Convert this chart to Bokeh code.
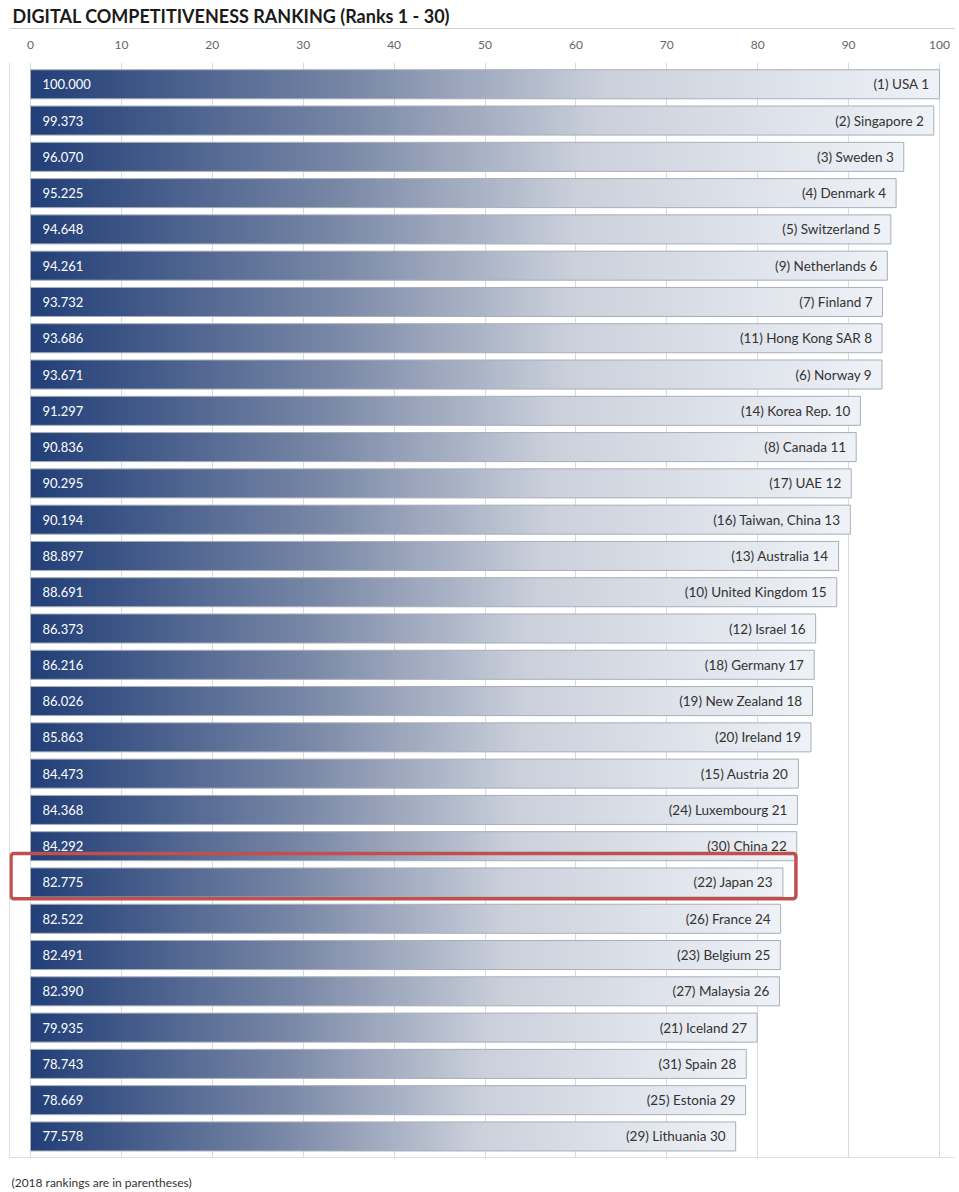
import numpy as np
from bokeh.plotting import figure
from bokeh.models import (Range1d, LinearAxis, FixedTicker, ColumnDataSource,
                          BoxAnnotation, Title)
from bokeh.core.properties import value
from bokeh.embed import file_html
from bokeh.resources import INLINE

# ---------------- data ----------------
ranks = list(range(1, 31))
countries = ["USA", "Singapore", "Sweden", "Denmark", "Switzerland", "Netherlands",
             "Finland", "Hong Kong SAR", "Norway", "Korea Rep.", "Canada", "UAE",
             "Taiwan, China", "Australia", "United Kingdom", "Israel", "Germany",
             "New Zealand", "Ireland", "Austria", "Luxembourg", "China", "Japan",
             "France", "Belgium", "Malaysia", "Iceland", "Spain", "Estonia", "Lithuania"]
ranks_2018 = [1, 2, 3, 4, 5, 9, 7, 11, 6, 14, 8, 17, 16, 13, 10, 12, 18, 19, 20, 15,
              24, 30, 22, 26, 23, 27, 21, 31, 25, 29]
scores = [100.000, 99.373, 96.070, 95.225, 94.648, 94.261, 93.732, 93.686, 93.671,
          91.297, 90.836, 90.295, 90.194, 88.897, 88.691, 86.373, 86.216, 86.026,
          85.863, 84.473, 84.368, 84.292, 82.775, 82.522, 82.491, 82.390, 79.935,
          78.743, 78.669, 77.578]
tick_values = [0, 10, 20, 30, 40, 50, 60, 70, 80, 90, 100]
title_text = "DIGITAL COMPETITIVENESS RANKING (Ranks 1 - 30)"
footnote_text = "(2018 rankings are in parentheses)"
highlight_country = "Japan"

# ---------------- styling ----------------
FONT = "Lato"
PX = 9.09                      # pixels per score unit
W = 955
LEFT_BORDER = 9
x_start = -21 / PX
x_end = x_start + (W - LEFT_BORDER) / PX
BAR_H = 0.8

labels = [f"({r18}) {c} {r}" for r18, c, r in zip(ranks_2018, countries, ranks)]
value_text = [f"{s:.3f}" for s in scores]

# gradient image (left dark navy -> right pale)
stops = [(0.0, (34, 63, 120)), (0.35, (120, 135, 166)),
         (0.63, (203, 208, 219)), (1.0, (239, 242, 247))]
N = 300
t = np.linspace(0, 1, N)
pos = [s[0] for s in stops]
img = np.empty((1, N), dtype=np.uint32)
view = img.view(dtype=np.uint8).reshape((1, N, 4))
for ch in range(3):
    view[0, :, ch] = np.interp(t, pos, [s[1][ch] for s in stops]).astype(np.uint8)
view[0, :, 3] = 255

src = ColumnDataSource(dict(rank=ranks, score=scores, base=[0] * len(ranks),
                            label=labels, vtext=value_text,
                            img=[img] * len(ranks),
                            img_y=[r - BAR_H / 2 for r in ranks]))

p = figure(width=W, height=1190, output_backend="svg", toolbar_location=None,
           x_range=Range1d(x_start, x_end), y_range=Range1d(30.58, 0.40),
           x_axis_location="above", y_axis_location="left",
           min_border_left=LEFT_BORDER, min_border_right=0, min_border_top=0,
           min_border_bottom=0, title=title_text)
p.background_fill_color = "white"
p.border_fill_color = "white"
p.outline_line_color = None

p.title.align = "left"
p.title.offset = 3
p.title.text_font = FONT
p.title.text_font_size = "18px"
p.title.text_font_style = "bold"
p.title.text_color = "#1a1a1a"
p.title.standoff = 4

# top axis with tick labels
xa = p.xaxis[0]
xa.ticker = FixedTicker(ticks=tick_values)
xa.axis_line_color = None
xa.major_tick_line_color = None
xa.minor_tick_line_color = None
xa.major_label_text_font = FONT
xa.major_label_text_font_size = "12px"
xa.major_label_text_color = "#666666"
xa.major_label_standoff = 8
xa.axis_label = " "
xa.axis_label_text_font_size = "5px"
xa.axis_label_standoff = 0

# line below title
top_line = LinearAxis(ticker=FixedTicker(ticks=[]), axis_line_color="#cfcfcf",
                      major_tick_line_color=None, minor_tick_line_color=None,
                      major_label_text_font_size="0px")
p.add_layout(top_line, "above")

# left panel line
ya = p.yaxis[0]
ya.ticker = FixedTicker(ticks=[])
ya.axis_line_color = "#e0e0e0"
ya.major_tick_line_color = None
ya.minor_tick_line_color = None
ya.major_label_text_font_size = "0px"

# bottom panel line (with blank label for spacing above the footnote)
bottom_line = LinearAxis(ticker=FixedTicker(ticks=[]), axis_line_color="#e0e0e0",
                         major_tick_line_color=None, minor_tick_line_color=None,
                         major_label_text_font_size="0px",
                         axis_label=" ", axis_label_text_font_size="10px",
                         axis_label_standoff=0)
p.add_layout(bottom_line, "below")

foot = Title(text=footnote_text, align="left", offset=2, text_font=FONT,
             text_font_size="12px", text_font_style="normal", text_color="#333333",
             standoff=2)
p.add_layout(foot, "below")

p.ygrid.visible = False
p.xgrid.ticker = FixedTicker(ticks=tick_values)
p.xgrid.grid_line_color = "#dadada"
p.xgrid.grid_line_width = 1

# bars: gradient image + outline
p.image_rgba(image="img", x="base", y="img_y", dw="score", dh=BAR_H, source=src)
p.hbar(y="rank", left="base", right="score", height=BAR_H, source=src,
       fill_color=None, line_color="#a8aeb9", line_width=1)

p.text(x="base", y="rank", text="vtext", source=src, x_offset=12,
       text_font=value(FONT), text_font_size="13px", text_color="white",
       text_baseline="middle", text_align="left")
p.text(x="score", y="rank", text="label", source=src, x_offset=-10,
       text_font=value(FONT), text_font_size="13.5px", text_color="#333333",
       text_baseline="middle", text_align="right")

# highlight box around Japan
hi = countries.index(highlight_country)
box = BoxAnnotation(left=x_start + 1.5 / PX, right=scores[hi] + 13 / PX,
                    top=ranks[hi] - 0.8, bottom=ranks[hi] + 0.45,
                    fill_alpha=0, line_color="#c0504d", line_alpha=1,
                    line_width=3.5, border_radius=3)
p.add_layout(box)

open("out.html", "w").write(file_html(p, INLINE))
